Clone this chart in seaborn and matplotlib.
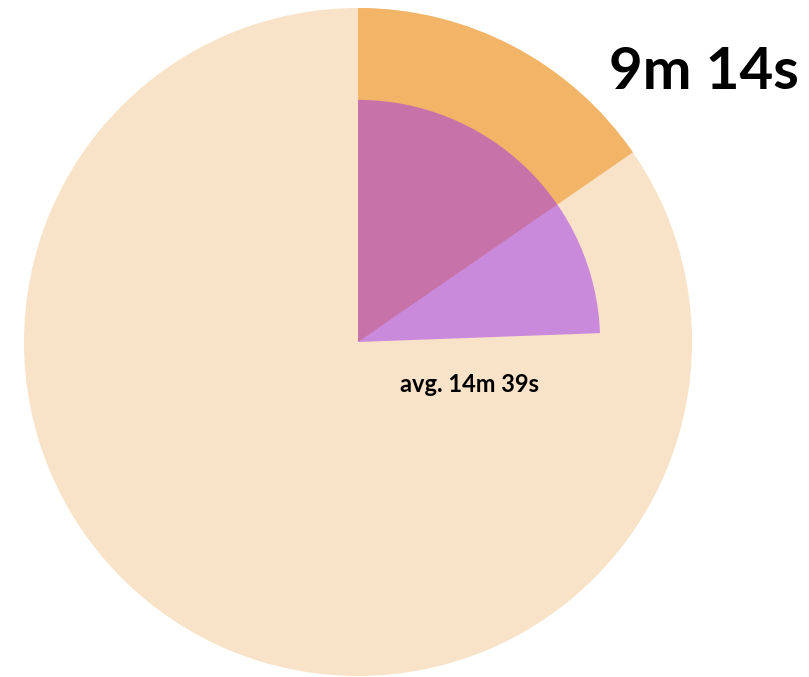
import matplotlib.pyplot as plt
import seaborn as sns

# durations in seconds, full circle = one hour
total = 3600
this_time = 554      # 9m 14s
avg_time = 879       # 14m 39s
main_label = "9m 14s"
avg_label = "avg. 14m 39s"

peach = "#F8E2C8"
orange = "#F2B467"
purple = (158 / 255, 52 / 255, 238 / 255, 0.5)

sns.set_theme(style="white")
plt.rcParams["font.family"] = ["Lato", "DejaVu Sans"]

fig = plt.figure(figsize=(8.09, 6.77), dpi=100)
ax = fig.add_axes([0, 0, 1, 1])

wp = {"linewidth": 0, "edgecolor": "none"}
ax.pie([total], colors=[peach], radius=1, startangle=90, wedgeprops=wp)
ax.pie([this_time, total - this_time], colors=[orange, "none"],
       radius=1, startangle=90, counterclock=False, wedgeprops=wp)
ax.pie([avg_time, total - avg_time], colors=[purple, "none"],
       radius=0.725, startangle=90, counterclock=False, wedgeprops=wp)

scale = 334
ax.set_xlim(-358 / scale, (809 - 358) / scale)
ax.set_ylim(-(677 - 342) / scale, 342 / scale)
ax.set_aspect("auto")
ax.axis("off")

ax.text((704 - 358) / scale, (342 - 73) / scale, main_label,
        fontsize=42, fontweight="bold", ha="center", va="center", color="black")
ax.text((470 - 358) / scale, (342 - 385) / scale, avg_label,
        fontsize=17, fontweight="bold", ha="center", va="center", color="black")

fig.savefig("out.png", dpi=100, facecolor="white")
